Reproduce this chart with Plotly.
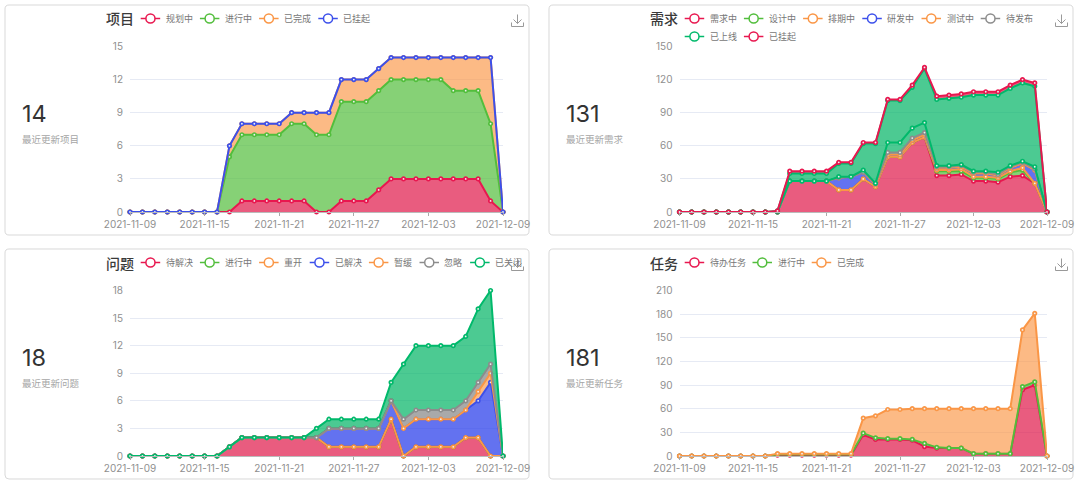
import pandas as pd
import plotly.graph_objects as go

W = 1080
H = 489

dates = pd.date_range("2021-11-09", "2021-12-09").strftime("%Y-%m-%d").tolist()
tick_dates = ["2021-11-09", "2021-11-15", "2021-11-21", "2021-11-27", "2021-12-03", "2021-12-09"]

RED = "#e8174f"
GREEN = "#52be3c"
ORANGE = "#fa9646"
BLUE = "#3c50eb"
GRAY = "#8c8c8c"
TEAL = "#00b96b"

# fill under each line
FILLS = {
    RED: "rgba(223,23,72,0.7)",
    GREEN: "rgba(82,190,60,0.7)",
    ORANGE: "rgba(250,150,70,0.66)",
    BLUE: "rgba(50,70,235,0.76)",
    GRAY: "rgba(140,140,140,0.75)",
    TEAL: "rgba(0,180,100,0.7)",
}

# project
project_names = ["规划中", "进行中", "已完成", "已挂起"]
project_colors = [RED, GREEN, ORANGE, BLUE]
project_planning = [0, 0, 0, 0, 0, 0, 0, 0, 0, 1, 1, 1, 1, 1, 1, 0, 0, 1, 1, 1, 2, 3, 3, 3, 3, 3, 3, 3, 3, 1, 0]
project_doing = [0, 0, 0, 0, 0, 0, 0, 0, 5, 6, 6, 6, 6, 7, 7, 7, 7, 9, 9, 9, 9, 9, 9, 9, 9, 9, 8, 8, 8, 7, 0]
project_done = [0, 0, 0, 0, 0, 0, 0, 0, 1, 1, 1, 1, 1, 1, 1, 2, 2, 2, 2, 2, 2, 2, 2, 2, 2, 2, 3, 3, 3, 6, 0]
project_hold = [0, 0, 0, 0, 0, 0, 0, 0, 0, 0, 0, 0, 0, 0, 0, 0, 0, 0, 0, 0, 0, 0, 0, 0, 0, 0, 0, 0, 0, 0, 0]

# requirement
req_names = ["需求中", "设计中", "排期中", "研发中", "测试中", "待发布", "已上线", "已上线", "已挂起"]
req_colors = [RED, GREEN, ORANGE, BLUE, ORANGE, GRAY, TEAL, TEAL, RED]
req_a = [0, 0, 0, 0, 0, 0, 0, 0, 0, 28, 28, 28, 28, 20, 20, 30, 23, 50, 50, 63, 68, 33, 33, 34, 28, 28, 27, 32, 33, 26, 0]
req_b = [0, 0, 0, 0, 0, 0, 0, 0, 0, 0, 0, 0, 0, 0, 0, 0, 0, 0, 0, 0, 0, 4, 4, 3, 3, 3, 3, 4, 5, 0, 0]
req_c = [0, 0, 0, 0, 0, 0, 0, 0, 0, 0, 0, 0, 0, 0, 0, 0, 0, 0, 0, 0, 0, 1, 1, 2, 1, 1, 1, 1, 2, 0, 0]
req_d = [0, 0, 0, 0, 0, 0, 0, 0, 0, 0, 0, 0, 0, 11, 12, 6, 2, 2, 2, 2, 2, 2, 2, 2, 3, 3, 2, 3, 4, 12, 0]
req_e = [0, 0, 0, 0, 0, 0, 0, 0, 0, 0, 0, 0, 0, 0, 0, 0, 0, 0, 0, 0, 0, 0, 0, 0, 0, 0, 0, 0, 0, 0, 0]
req_f = [0, 0, 0, 0, 0, 0, 0, 0, 0, 0, 0, 0, 0, 0, 0, 0, 1, 2, 2, 2, 2, 1, 1, 1, 1, 1, 1, 1, 1, 1, 0]
req_g = [0, 0, 0, 0, 0, 0, 0, 0, 0, 0, 0, 0, 0, 1, 0, 2, 0, 9, 9, 9, 9, 1, 1, 1, 1, 1, 2, 1, 1, 2, 0]
req_h = [0, 0, 0, 0, 0, 0, 0, 0, 1, 7, 7, 7, 7, 12, 12, 24, 36, 38, 38, 37, 49, 60, 61, 61, 69, 69, 70, 70, 71, 73, 0]
req_i = [0, 0, 0, 0, 0, 0, 0, 0, 0, 2, 2, 2, 2, 1, 1, 1, 1, 1, 1, 2, 1, 3, 3, 3, 3, 3, 3, 3, 3, 3, 0]

# issue
issue_names = ["待解决", "进行中", "重开", "已解决", "暂缓", "忽略", "已关闭"]
issue_colors = [RED, GREEN, ORANGE, BLUE, ORANGE, GRAY, TEAL]
issue_todo = [0, 0, 0, 0, 0, 0, 0, 0, 1, 2, 2, 2, 2, 2, 2, 2, 1, 1, 1, 1, 1, 4, 0, 1, 1, 1, 1, 2, 2, 0, 0]
issue_doing = [0, 0, 0, 0, 0, 0, 0, 0, 0, 0, 0, 0, 0, 0, 0, 0, 0, 0, 0, 0, 0, 0, 0, 0, 0, 0, 0, 0, 0, 0, 0]
issue_reopen = [0, 0, 0, 0, 0, 0, 0, 0, 0, 0, 0, 0, 0, 0, 0, 0, 0, 0, 0, 0, 0, 0, 0, 0, 0, 0, 0, 0, 0, 0, 0]
issue_solved = [0, 0, 0, 0, 0, 0, 0, 0, 0, 0, 0, 0, 0, 0, 0, 0, 2, 2, 2, 2, 2, 2, 3, 3, 3, 3, 3, 3, 4, 8, 0]
issue_paused = [0, 0, 0, 0, 0, 0, 0, 0, 0, 0, 0, 0, 0, 0, 0, 0, 0, 0, 0, 0, 0, 0, 0, 0, 0, 0, 0, 0, 1, 1, 0]
issue_ignored = [0, 0, 0, 0, 0, 0, 0, 0, 0, 0, 0, 0, 0, 0, 0, 0, 0, 0, 0, 0, 0, 0, 1, 1, 1, 1, 1, 1, 1, 1, 0]
issue_closed = [0, 0, 0, 0, 0, 0, 0, 0, 0, 0, 0, 0, 0, 0, 0, 1, 1, 1, 1, 1, 1, 2, 6, 7, 7, 7, 7, 7, 8, 8, 0]

# task
task_names = ["待办任务", "进行中", "已完成"]
task_colors = [RED, GREEN, ORANGE]
task_todo = [0, 0, 0, 0, 0, 0, 0, 0, 1, 1, 1, 1, 1, 1, 1, 27, 21, 21, 21, 20, 12, 10, 10, 10, 3, 3, 3, 3, 84, 90, 0]
task_doing = [0, 0, 0, 0, 0, 0, 0, 0, 1, 1, 1, 1, 1, 1, 1, 2, 2, 1, 1, 1, 4, 1, 0, 0, 0, 0, 0, 0, 4, 4, 0]
task_done = [0, 0, 0, 0, 0, 0, 0, 0, 1, 1, 1, 1, 1, 1, 1, 19, 28, 37, 37, 39, 44, 49, 50, 50, 57, 57, 57, 57, 72, 87, 0]

charts = [
    dict(title="项目", total="14", note="最近更新项目", card=(5, 5), names=project_names, colors=project_colors,
         values=[project_planning, project_doing, project_done, project_hold], ymax=15, dy=3,
         legend=[list(zip(project_names, project_colors))]),
    dict(title="需求", total="131", note="最近更新需求", card=(549, 5), names=req_names, colors=req_colors,
         values=[req_a, req_b, req_c, req_d, req_e, req_f, req_g, req_h, req_i], ymax=150, dy=30,
         legend=[list(zip(req_names[:6], req_colors[:6])), list(zip(req_names[7:], req_colors[7:]))]),
    dict(title="问题", total="18", note="最近更新问题", card=(5, 249), names=issue_names, colors=issue_colors,
         values=[issue_todo, issue_doing, issue_reopen, issue_solved, issue_paused, issue_ignored, issue_closed],
         ymax=18, dy=3, legend=[list(zip(issue_names, issue_colors))]),
    dict(title="任务", total="181", note="最近更新任务", card=(549, 249), names=task_names, colors=task_colors,
         values=[task_todo, task_doing, task_done], ymax=210, dy=30,
         legend=[list(zip(task_names, task_colors))]),
]

FONT = "Inter, Noto Sans CJK SC, sans-serif"


def px(x):
    return x / W


def py(y):
    return 1 - y / H


def text(x, y, s, size, color, weight=400):
    return dict(x=px(x), y=py(y), xref="paper", yref="paper", text=s, showarrow=False, xanchor="left",
                yanchor="middle", align="left", xshift=-2, font=dict(family=FONT, size=size, color=color, weight=weight))


def card_path(x0, y0, x1, y1, r=4):
    pts = [
        "M%f,%f" % (px(x0 + r), py(y0)), "L%f,%f" % (px(x1 - r), py(y0)),
        "Q%f,%f %f,%f" % (px(x1), py(y0), px(x1), py(y0 + r)), "L%f,%f" % (px(x1), py(y1 - r)),
        "Q%f,%f %f,%f" % (px(x1), py(y1), px(x1 - r), py(y1)), "L%f,%f" % (px(x0 + r), py(y1)),
        "Q%f,%f %f,%f" % (px(x0), py(y1), px(x0), py(y1 - r)), "L%f,%f" % (px(x0), py(y0 + r)),
        "Q%f,%f %f,%f" % (px(x0), py(y0), px(x0 + r), py(y0)), "Z",
    ]
    return " ".join(pts)


def download_path(x, y):
    # tray with an arrow going down, 12 wide and 12 high
    pts = [(x, y + 8), (x, y + 12), (x + 12, y + 12), (x + 12, y + 8)]
    p = "M" + " L".join("%f,%f" % (px(a), py(b)) for a, b in pts)
    p += " M%f,%f L%f,%f" % (px(x + 6), py(y), px(x + 6), py(y + 9))
    p += " M%f,%f L%f,%f L%f,%f" % (px(x + 2), py(y + 5), px(x + 6), py(y + 9), px(x + 10), py(y + 5))
    return p


fig = go.Figure()
shapes = []
annotations = []

for i, c in enumerate(charts):
    cx, cy = c["card"]
    xname = "xaxis" if i == 0 else "xaxis%d" % (i + 1)
    yname = "yaxis" if i == 0 else "yaxis%d" % (i + 1)
    xref = "x" if i == 0 else "x%d" % (i + 1)
    yref = "y" if i == 0 else "y%d" % (i + 1)

    shapes.append(dict(type="path", path=card_path(cx, cy, cx + 524, cy + 230), xref="paper", yref="paper",
                       line=dict(color="#d9d9d9", width=1), fillcolor="white", layer="below"))

    plot_left = cx + 125 if cx < 500 else cx + 130.5
    plot_right = cx + 498
    plot_top = cy + 41.5
    plot_bottom = cy + 207

    for name, color, vals in zip(c["names"], c["colors"], c["values"]):
        fig.add_trace(go.Scatter(
            x=dates, y=vals, name=name, xaxis=xref, yaxis=yref, mode="lines+markers", stackgroup="s%d" % i,
            line=dict(color=color, width=2), fillcolor=FILLS[color], cliponaxis=False,
            marker=dict(size=3.5, color="#f0f0f0", line=dict(color=color, width=1.7)), showlegend=False,
        ))

    fig.layout[xname] = dict(
        domain=[px(plot_left), px(plot_right)], type="category", range=[0, 30], tickmode="array",
        tickvals=tick_dates, ticktext=tick_dates, ticks="outside", ticklen=3, tickcolor="#aaaaaa", showgrid=False,
        showline=True, linecolor="#bbbbbb", linewidth=1, anchor=yref, tickfont=dict(family=FONT, size=10, color="#8f8f8f"),
        zeroline=False, tickangle=0, automargin=False,
    )
    fig.layout[yname] = dict(
        domain=[py(plot_bottom), py(plot_top)], range=[0, c["ymax"]], dtick=c["dy"], tick0=0,
        showgrid=True, gridcolor="#e6eaf4", gridwidth=1, zeroline=False, showline=False, ticks="outside", ticklen=4,
        tickcolor="rgba(0,0,0,0)", anchor=xref, tickfont=dict(family=FONT, size=10, color="#8f8f8f"), automargin=False,
    )

    annotations.append(text(cx + 101, cy + 14, c["title"], 14, "#3a3a3a", 500))
    annotations.append(text(cx + 17, cy + 108, c["total"], 23.5, "#333333"))
    annotations.append(text(cx + 17, cy + 134, c["note"], 9.5, "#a6a6a6"))

    # legend keys: line with a ring, then the name
    for r, row in enumerate(c["legend"]):
        lx = cx + 135.7
        ly = cy + 13.5 + r * 18
        for name, color in row:
            shapes.append(dict(type="line", xref="paper", yref="paper", x0=px(lx), x1=px(lx + 19.5), y0=py(ly), y1=py(ly),
                               line=dict(color=color, width=1.5)))
            shapes.append(dict(type="circle", xref="paper", yref="paper", x0=px(lx + 5.2), x1=px(lx + 14.3),
                               y0=py(ly - 4.5), y1=py(ly + 4.5), fillcolor="white", line=dict(color=color, width=1.5)))
            annotations.append(text(lx + 25, ly, name, 9, "#777777"))
            lx += 33.4 + 8.6 * len(name)

    shapes.append(dict(type="path", path=download_path(cx + 506.5, cy + 9.5), xref="paper", yref="paper",
                       line=dict(color="#999999", width=1)))

fig.update_layout(
    width=W, height=H, autosize=False, margin=dict(l=0, r=0, t=0, b=0), paper_bgcolor="white", plot_bgcolor="rgba(0,0,0,0)",
    shapes=shapes, annotations=annotations, font=dict(family=FONT), showlegend=False,
)

fig.write_html("out.html", config={"displayModeBar": False}, post_script="document.body.style.margin='0';")
